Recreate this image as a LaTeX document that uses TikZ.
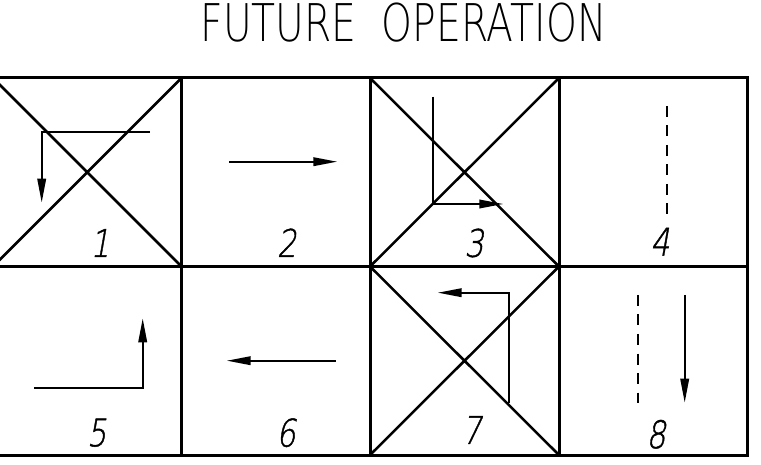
\documentclass[tikz,border=0pt]{standalone}
\usepackage{fontspec}
\usetikzlibrary{arrows.meta}
\newfontfamily\titlefont{DejaVu Sans ExtraLight}
\newfontfamily\numfont[FakeSlant=0.22,FakeBold=1.2]{DejaVu Sans ExtraLight}
\tikzset{
  gridline/.style={line width=3pt},
  diag/.style={line width=2.5pt},
  route/.style={line width=2pt},
  routearrow/.style={line width=2pt,-{Triangle[length=24pt,width=8.5pt]}},
  dashroute/.style={line width=2.2pt,dash pattern=on 11pt off 8.5pt},
  num/.style={font=\numfont\fontsize{38}{38}\selectfont, inner sep=0pt, xscale=0.8, transform shape},
}
\begin{document}
\begin{tikzpicture}[x=1pt,y=-1pt]
\useasboundingbox (0,0) rectangle (761,465);
% title
\node[font=\titlefont\fontsize{52}{52}\selectfont, inner sep=0pt, xscale=0.755, transform shape] (title) at (403.5,23) {FUTURE\ \ OPERATION};
% grid
\draw[gridline] (-7,78) rectangle (747.5,455);
\draw[gridline] (-7,266.5) -- (747.5,266.5);
\foreach \x in {181.5,370,559} \draw[gridline] (\x,78) -- (\x,455);
% diagonals
\draw[diag] (-7,78) -- (181.5,266.5) (-7,266.5) -- (181.5,78);
\draw[diag] (370,78) -- (559,266.5) (370,266.5) -- (559,78);
\draw[diag] (370,266.5) -- (559,455) (370,455) -- (559,266.5);
% cell 1
\coordinate (a1s) at (150,131.7);
\coordinate (a1c) at (41.7,131.7);
\coordinate (a1e) at (41.7,202.7);
\draw[routearrow] (a1s) -- (a1c) -- (a1e);
% cell 2
\coordinate (a2s) at (229.3,161.7);
\coordinate (a2e) at (337.3,161.7);
\draw[routearrow] (a2s) -- (a2e);
% cell 3
\coordinate (a3s) at (432.7,96.7);
\coordinate (a3c) at (432.7,204);
\coordinate (a3e) at (503.3,204);
\draw[routearrow] (a3s) -- (a3c) -- (a3e);
% cell 4
\coordinate (d4s) at (667.3,106);
\coordinate (d4e) at (667.3,215);
\draw[dashroute] (d4s) -- (d4e);
% cell 5
\coordinate (a5s) at (34.3,387.7);
\coordinate (a5c) at (142.7,387.7);
\coordinate (a5e) at (142.7,318.3);
\draw[routearrow] (a5s) -- (a5c) -- (a5e);
% cell 6
\coordinate (a6s) at (335.7,360.7);
\coordinate (a6e) at (226.7,360.7);
\draw[routearrow] (a6s) -- (a6e);
% cell 7
\coordinate (a7s) at (508.7,402.7);
\coordinate (a7c) at (508.7,292.7);
\coordinate (a7e) at (437.7,292.7);
\draw[routearrow] (a7s) -- (a7c) -- (a7e);
% cell 8
\coordinate (d8s) at (637.7,295);
\coordinate (d8e) at (637.7,402.7);
\draw[dashroute] (d8s) -- (d8e);
\coordinate (a8s) at (684.7,295);
\coordinate (a8e) at (684.7,402.7);
\draw[routearrow] (a8s) -- (a8e);
% numbers
\node[num] (n1) at (100,243) {1};
\node[num] (n2) at (286.7,242.7) {2};
\node[num] (n3) at (474,243) {3};
\node[num] (n4) at (660,241.7) {4};
\node[num] (n5) at (96.7,432.7) {5};
\node[num] (n6) at (286,432.7) {6};
\node[num] (n7) at (471.7,430) {7};
\node[num] (n8) at (656,434.3) {8};
\end{tikzpicture}
\end{document}
